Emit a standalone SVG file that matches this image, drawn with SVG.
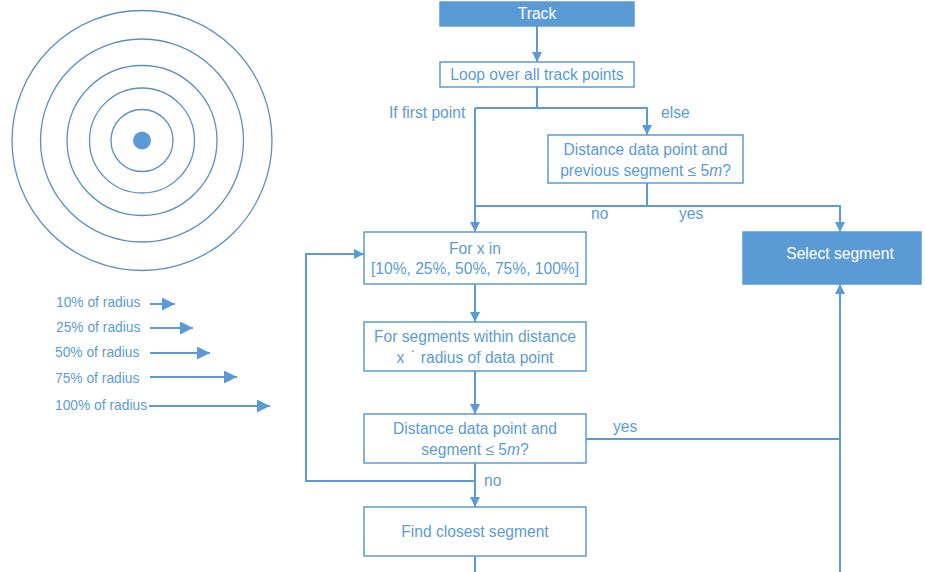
<svg xmlns="http://www.w3.org/2000/svg" width="925" height="572" viewBox="0 0 925 572">
  <defs>
    <marker id="arr" viewBox="0 0 10 10" refX="10" refY="5" markerWidth="10" markerHeight="10" markerUnits="userSpaceOnUse" orient="auto">
      <path d="M0,0 L10,5 L0,10 Z" fill="#5b9bd5"/>
    </marker>
    <marker id="arrL" viewBox="0 0 10 10" refX="10" refY="5" markerWidth="13" markerHeight="13" markerUnits="userSpaceOnUse" orient="auto">
      <path d="M0,0 L10,5 L0,10 Z" fill="#5b9bd5"/>
    </marker>
  </defs>
  <style>
    text { font-family: "Liberation Sans", Arial, sans-serif; font-size: 15.6px; fill: #5b9bd5; }
    .small { font-size: 13.8px; }
    .white { fill: #ffffff; }
    .box { fill: #ffffff; stroke: #5b9bd5; stroke-width: 1.5; }
    .filled { fill: #5b9bd5; stroke: #5b9bd5; stroke-width: 1.5; }
    .conn { fill: none; stroke: #5b9bd5; stroke-width: 2; }
    .ring { fill: none; stroke: #5a8fc8; stroke-width: 1.3; }
  </style>
  <rect width="925" height="572" fill="#ffffff"/>

  <!-- Search radius rings around a data point -->
  <g id="rings">
    <circle class="ring" cx="142" cy="140.5" r="130"/>
    <circle class="ring" cx="142" cy="140.5" r="101.5"/>
    <circle class="ring" cx="142" cy="140.5" r="75"/>
    <circle class="ring" cx="142" cy="140.5" r="52.5"/>
    <circle class="ring" cx="142" cy="140.5" r="31"/>
    <circle cx="142" cy="140.5" r="9" fill="#5b9bd5"/>
  </g>

  <!-- Radius legend -->
  <g id="legend">
    <text class="small" x="56" y="307">10% of radius</text>
    <text class="small" x="56" y="332">25% of radius</text>
    <text class="small" x="55" y="357">50% of radius</text>
    <text class="small" x="55" y="383">75% of radius</text>
    <text class="small" x="55" y="410">100% of radius</text>
    <line class="conn" x1="150" y1="304" x2="175" y2="304" marker-end="url(#arrL)"/>
    <line class="conn" x1="150" y1="328" x2="193" y2="328" marker-end="url(#arrL)"/>
    <line class="conn" x1="150" y1="353" x2="210" y2="353" marker-end="url(#arrL)"/>
    <line class="conn" x1="150" y1="377" x2="237" y2="377" marker-end="url(#arrL)"/>
    <line class="conn" x1="149" y1="406" x2="270" y2="406" marker-end="url(#arrL)"/>
  </g>

  <!-- Connectors -->
  <g id="connectors">
    <line class="conn" x1="537" y1="26" x2="537" y2="62" marker-end="url(#arr)"/>
    <polyline class="conn" points="537,87 537,108"/>
    <polyline class="conn" points="475,108 647,108 647,135" marker-end="url(#arr)"/>
    <polyline class="conn" points="475,108 475,232" marker-end="url(#arr)"/>
    <polyline class="conn" points="647,183 647,206"/>
    <polyline class="conn" points="475,206 840,206 840,232" marker-end="url(#arr)"/>
    <line class="conn" x1="475" y1="284" x2="475" y2="322" marker-end="url(#arr)"/>
    <line class="conn" x1="475" y1="371" x2="475" y2="414" marker-end="url(#arr)"/>
    <line class="conn" x1="475" y1="463" x2="475" y2="507" marker-end="url(#arr)"/>
    <polyline class="conn" points="475,481 306,481 306,254 364,254" marker-end="url(#arr)"/>
    <line class="conn" x1="475" y1="556" x2="475" y2="572"/>
    <polyline class="conn" points="586,439 840,439"/>
    <line class="conn" x1="840" y1="572" x2="840" y2="284" marker-end="url(#arr)"/>
    <text x="389" y="118">If first point</text>
    <text x="661" y="118">else</text>
    <text x="591" y="219">no</text>
    <text x="679" y="219">yes</text>
    <text x="613" y="432">yes</text>
    <text x="484" y="486">no</text>
  </g>

  <g id="track">
    <rect class="filled" x="440" y="2" width="194" height="24"/>
    <text class="white" x="537" y="19" text-anchor="middle">Track</text>
  </g>

  <g id="loop">
    <rect class="box" x="440" y="62" width="194" height="25"/>
    <text x="537" y="80" text-anchor="middle">Loop over all track points</text>
  </g>

  <g id="prev-check">
    <rect class="box" x="548" y="135" width="195" height="48"/>
    <text x="645.5" y="155" text-anchor="middle">Distance data point and</text>
    <text x="645.5" y="176" text-anchor="middle">previous segment ≤ 5<tspan font-style="italic">m</tspan>?</text>
  </g>

  <g id="for-x">
    <rect class="box" x="364" y="232" width="222" height="52"/>
    <text x="475" y="254" text-anchor="middle">For x in</text>
    <text x="475" y="274" text-anchor="middle">[10%, 25%, 50%, 75%, 100%]</text>
  </g>

  <g id="select">
    <rect class="filled" x="743" y="232" width="178" height="52"/>
    <text class="white" x="840" y="259" text-anchor="middle">Select segment</text>
  </g>

  <g id="for-segments">
    <rect class="box" x="364" y="322" width="222" height="49"/>
    <text x="475" y="342" text-anchor="middle">For segments within distance</text>
    <text x="475" y="363" text-anchor="middle">x <tspan font-family="'DejaVu Sans', sans-serif">˙</tspan> radius of data point</text>
  </g>

  <g id="seg-check">
    <rect class="box" x="364" y="414" width="222" height="49"/>
    <text x="475" y="434" text-anchor="middle">Distance data point and</text>
    <text x="475" y="455" text-anchor="middle">segment ≤ 5<tspan font-style="italic">m</tspan>?</text>
  </g>

  <g id="closest">
    <rect class="box" x="364" y="507" width="222" height="49"/>
    <text x="475" y="537" text-anchor="middle">Find closest segment</text>
  </g>
</svg>
